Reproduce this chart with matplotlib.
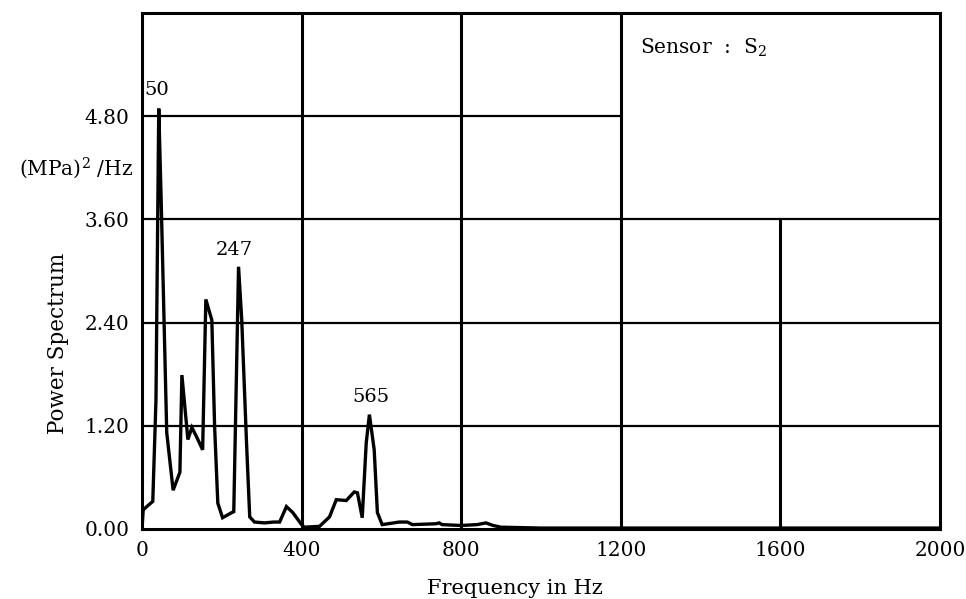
import matplotlib
matplotlib.use("Agg")
import matplotlib.pyplot as plt

plt.rcParams['font.family'] = ['DejaVu Serif']
plt.rcParams['mathtext.fontset'] = 'custom'
plt.rcParams['mathtext.rm'] = 'DejaVu Serif'

# spectrum (Hz, (MPa)^2/Hz)
freq = [0, 3, 12, 27, 35, 42, 48, 62, 78, 95, 100, 115, 125, 137, 152, 160,
        175, 182, 190, 202, 225, 230, 242, 250, 262, 270, 282, 307, 330,
        345, 362, 378, 400, 407, 445, 470, 487, 512, 532, 540, 552, 562,
        570, 582, 590, 602, 645, 665, 678, 737, 745, 752, 800, 840, 862,
        880, 900, 1000, 1400, 2000]
power = [0.0, 0.22, 0.26, 0.32, 1.5, 4.89, 3.83, 1.12, 0.45, 0.66, 1.79,
         1.04, 1.18, 1.07, 0.92, 2.67, 2.43, 1.19, 0.30, 0.13, 0.19, 0.20,
         3.05, 2.43, 1.0, 0.14, 0.08, 0.07, 0.08, 0.08, 0.26, 0.19, 0.05,
         0.02, 0.03, 0.14, 0.34, 0.33, 0.43, 0.42, 0.13, 1.0, 1.33, 0.92,
         0.19, 0.05, 0.08, 0.08, 0.05, 0.06, 0.07, 0.05, 0.04, 0.05, 0.07,
         0.04, 0.02, 0.01, 0.01, 0.01]

xticks = [0, 400, 800, 1200, 1600, 2000]
yticks = [0.0, 1.2, 2.4, 3.6, 4.8]
ytick_labels = ['0.00', '1.20', '2.40', '3.60', '4.80']

# grid lines: (level, start, end)
hgrid = [(1.2, 0, 2000), (2.4, 0, 2000), (3.6, 0, 2000), (4.8, 0, 1200)]
vgrid = [(400, 0, 6.0), (800, 0, 6.0), (1200, 0, 6.0), (1600, 0, 3.6)]

peak_labels = [(37, 5.11, '50'), (232, 3.25, '247'), (575, 1.54, '565')]

fig = plt.figure(figsize=(9.66, 5.99), dpi=100)
ax = fig.add_axes([0.147, 0.117, 0.826, 0.861])

for lev, a, b in hgrid:
    ax.hlines(lev, a, b, color='black', lw=1.6)
for lev, a, b in vgrid:
    ax.vlines(lev, a, b, color='black', lw=2.2)

ax.plot(freq, power, color='black', lw=2.4, solid_joinstyle='miter')

for x, y, s in peak_labels:
    ax.text(x, y, s, ha='center', va='center', fontsize=14)

ax.text(1247, 5.6, 'Sensor  :  S$_\\mathrm{2}$', ha='left', va='center', fontsize=14.5)

ax.set_xlim(0, 2000)
ax.set_ylim(0, 6.0)
ax.set_xticks(xticks)
ax.set_yticks(yticks)
ax.set_yticklabels(ytick_labels)
ax.tick_params(length=0, labelsize=14.5, pad=9)
for sp in ax.spines.values():
    sp.set_linewidth(2.2)

fig.text(133 / 966, 1 - 168 / 599, '(MPa)$^\\mathrm{2}$ /Hz', ha='right', va='center', fontsize=14.5)
fig.text(58 / 966, 1 - 343 / 599, 'Power Spectrum', rotation=90, ha='center', va='center', fontsize=15.5)
fig.text(515 / 966, 1 - 588 / 599, 'Frequency in Hz', ha='center', va='center', fontsize=15)

fig.savefig('out.png', dpi=100)
